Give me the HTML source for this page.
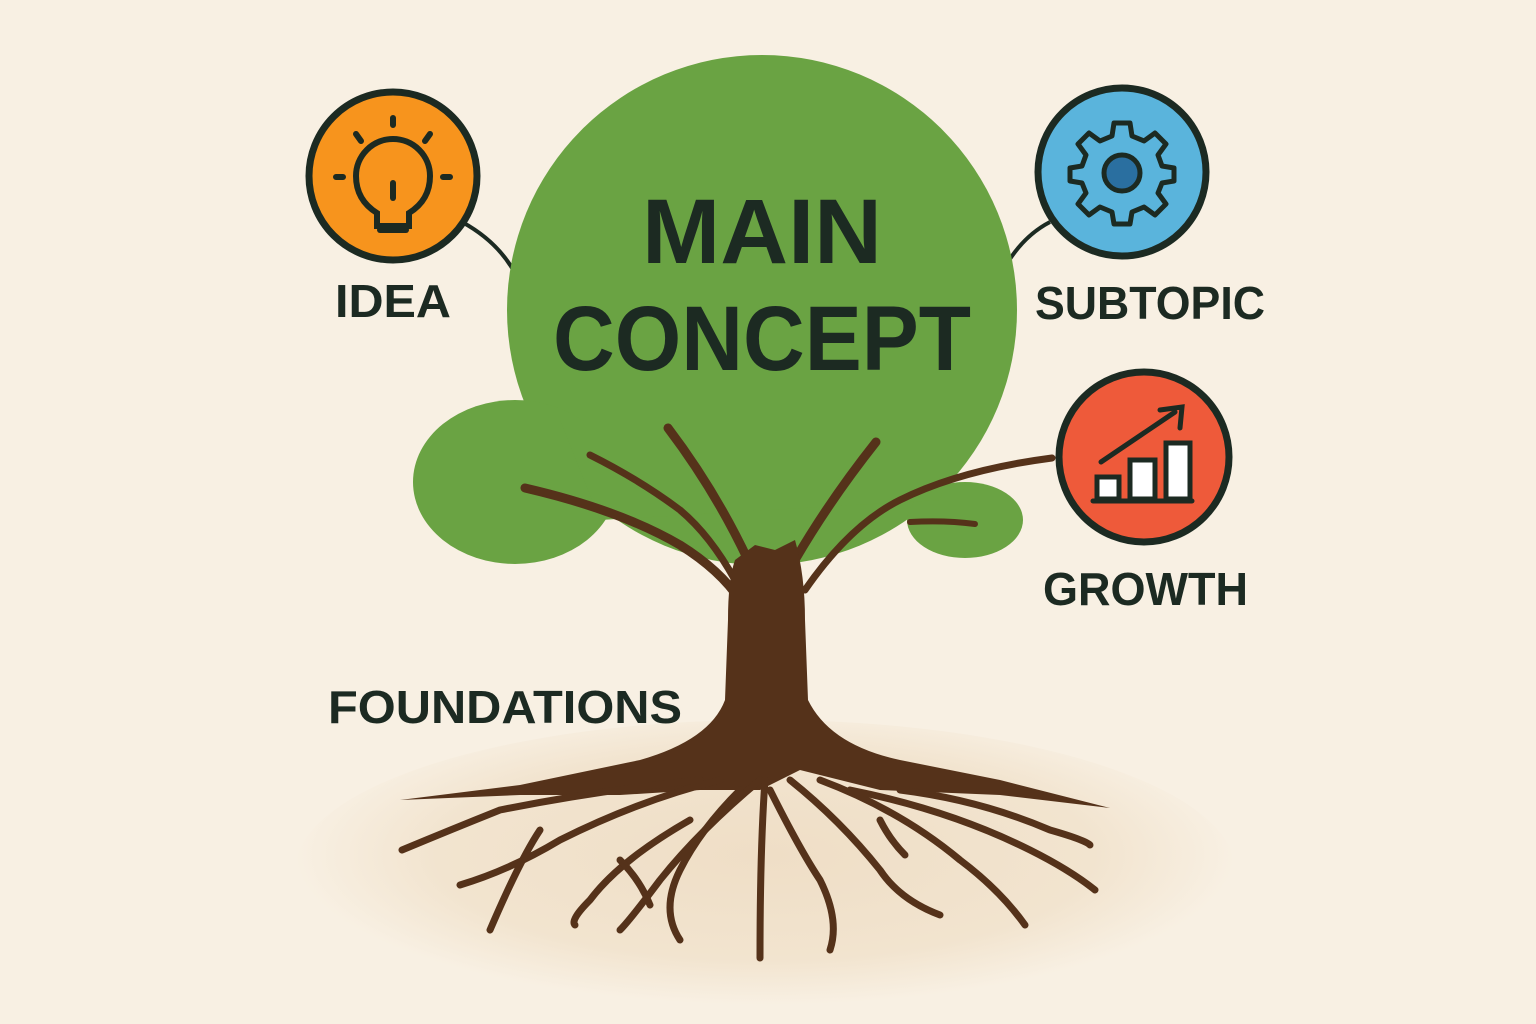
<!DOCTYPE html>
<html><head><meta charset="utf-8"><style>
html,body{margin:0;padding:0;background:#f8f0e3;}
svg{display:block}
text{font-family:"Liberation Sans",sans-serif;font-weight:bold;fill:#1c2a22;}
</style></head><body>
<svg width="1536" height="1024" viewBox="0 0 1536 1024" xmlns="http://www.w3.org/2000/svg">
<defs>
<radialGradient id="g" cx="0.5" cy="0.45" r="0.5">
<stop offset="0" stop-color="#efdec6"/><stop offset="0.7" stop-color="#f2e4cf"/><stop offset="1" stop-color="#f8f0e3"/>
</radialGradient>
</defs>
<rect width="1536" height="1024" fill="#f8f0e3"/>
<ellipse cx="765" cy="870" rx="470" ry="150" fill="url(#g)"/>
<path d="M462 222 Q495 240 512 268" stroke="#1c2a22" stroke-width="4" fill="none"/>
<path d="M1050 222 Q1025 235 1008 262" stroke="#1c2a22" stroke-width="4" fill="none"/>
<g fill="#6aa343">
<circle cx="762" cy="310" r="255"/>
<ellipse cx="515" cy="482" rx="102" ry="82"/>
<ellipse cx="965" cy="520" rx="58" ry="38"/>
<path d="M560 420 L960 420 L940 500 L600 520 Z"/>
</g>
<g fill="none" stroke="#55321a" stroke-linecap="round">
<path d="M1052 458 Q960 470 900 500 Q850 525 805 590" stroke-width="7"/>
<path d="M910 522 Q945 520 975 524" stroke-width="6"/>
<path d="M525 488 Q620 510 680 545 Q720 570 740 600" stroke-width="9"/>
<path d="M590 455 Q640 480 680 510 Q710 535 735 580" stroke-width="7"/>
<path d="M668 428 Q715 490 748 560" stroke-width="9"/>
<path d="M876 442 Q830 500 795 560" stroke-width="9"/>
</g>
<path d="M728 620 Q728 580 735 560 L755 545 L775 550 L795 540 Q805 575 805 620 L808 700 Q830 745 900 760 L1000 780 L1110 808 L1000 795 L880 790 L800 770 L760 790 L700 790 L620 795 L520 795 L400 800 L520 785 L640 760 Q710 740 725 700 Z" fill="#55321a"/>
<g fill="none" stroke="#55321a" stroke-linecap="round" stroke-width="7">
<path d="M720 780 Q640 800 560 840 Q510 870 460 885"/>
<path d="M700 780 Q600 790 500 810 Q450 830 402 850"/>
<path d="M540 830 Q520 860 490 930"/>
<path d="M760 780 Q700 830 660 880 Q630 920 620 930"/>
<path d="M740 790 Q700 830 680 870 Q660 910 680 940"/>
<path d="M690 820 Q620 860 590 900 Q570 920 575 925"/>
<path d="M765 780 Q760 850 760 958"/>
<path d="M770 790 Q800 850 820 880 Q840 920 830 950"/>
<path d="M790 780 Q840 820 880 870 Q900 900 940 915"/>
<path d="M820 780 Q900 810 960 860 Q1000 890 1025 925"/>
<path d="M850 790 Q950 810 1030 850 Q1070 870 1095 890"/>
<path d="M900 790 Q980 800 1050 830 Q1085 840 1090 845"/>
<path d="M880 820 Q890 840 905 855"/>
<path d="M620 860 Q640 880 650 905"/>
</g>
<circle cx="393" cy="176" r="84" fill="#f7941d" stroke="#1c2a22" stroke-width="7"/>
<g stroke="#1c2a22" stroke-width="6" fill="none" stroke-linecap="round">
<path d="M377 226 L377 213 Q356 200 356 176 A37 37 0 1 1 430 176 Q430 200 409 213 L409 226 Z"/>
<path d="M380 230 L406 230"/>
<path d="M393 183 L393 198"/>
<path d="M393 118 L393 125 M356 134 L361 141 M430 134 L425 141 M336 177 L343 177 M443 177 L450 177"/>
</g>
<circle cx="1122" cy="172" r="84" fill="#5ab4dc" stroke="#1c2a22" stroke-width="7"/>
<g transform="translate(1122,173)">
<path d="M-8 -50 L8 -50 L10 -37 L22 -32 L33 -40 L44 -29 L36 -18 L40 -7 L52 -5 L52 8 L40 10 L36 20 L44 31 L33 42 L22 34 L10 39 L8 51 L-8 51 L-10 39 L-22 34 L-33 42 L-44 31 L-36 20 L-40 10 L-52 8 L-52 -5 L-40 -7 L-36 -18 L-44 -29 L-33 -40 L-22 -32 L-10 -37 Z" fill="#5ab4dc" stroke="#1c2a22" stroke-width="5" stroke-linejoin="round"/>
<circle r="18" fill="#2a6fa0" stroke="#1c2a22" stroke-width="5"/>
</g>
<circle cx="1144" cy="457" r="85" fill="#ee5a3a" stroke="#1c2a22" stroke-width="7"/>
<g stroke="#1c2a22" stroke-width="5" stroke-linecap="round">
<path d="M1101 462 L1175 412" fill="none"/>
<path d="M1160 410 L1182 407 L1180 428" fill="none"/>
<rect x="1097" y="477" width="22" height="22" fill="#fff"/>
<rect x="1130" y="460" width="25" height="39" fill="#fff"/>
<rect x="1166" y="443" width="24" height="56" fill="#fff"/>
<path d="M1093 501 L1192 501"/>
</g>
<text x="762" y="263" font-size="92" text-anchor="middle" textLength="240" lengthAdjust="spacingAndGlyphs">MAIN</text>
<text x="762" y="370" font-size="92" text-anchor="middle" textLength="418" lengthAdjust="spacingAndGlyphs">CONCEPT</text>
<text x="335" y="317" font-size="46" textLength="116" lengthAdjust="spacingAndGlyphs">IDEA</text>
<text x="1035" y="319" font-size="46" textLength="230" lengthAdjust="spacingAndGlyphs">SUBTOPIC</text>
<text x="1043" y="605" font-size="46" textLength="205" lengthAdjust="spacingAndGlyphs">GROWTH</text>
<text x="328" y="723" font-size="46" textLength="354" lengthAdjust="spacingAndGlyphs">FOUNDATIONS</text>
</svg>
</body></html>
